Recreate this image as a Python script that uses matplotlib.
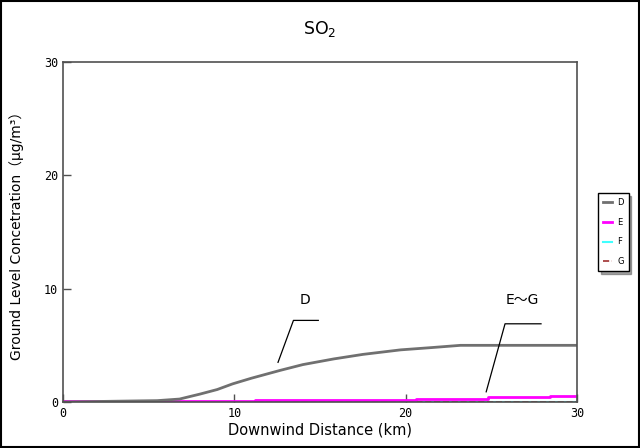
import numpy as np
import matplotlib.pyplot as plt
from matplotlib.lines import Line2D

plt.rcParams['font.family'] = ['DejaVu Sans', 'Noto Sans CJK JP']

# downwind distance (km) and ground level concentration
dist_d = [0, 4.5, 5.5, 6.8, 8.0, 9.0, 9.9, 11.0, 12.7, 14.0, 15.8, 17.5, 19.7, 21.5, 23.2, 25.0, 27.0, 30.0]
conc_d = [0.0, 0.1, 0.12, 0.26, 0.7, 1.1, 1.6, 2.1, 2.8, 3.3, 3.8, 4.2, 4.6, 4.8, 5.0, 5.0, 5.0, 5.0]

dist_e = [0, 11.0, 11.2, 20.5, 20.6, 24.7, 24.8, 28.3, 28.4, 30.0]
conc_e = [0.05, 0.05, 0.15, 0.15, 0.3, 0.3, 0.42, 0.42, 0.52, 0.52]

dist_f = [0, 30]
conc_f = [0.0, 0.0]
dist_g = [0, 30]
conc_g = [0.0, 0.0]

labels = ["D", "E", "F", "G"]

fig = plt.figure(figsize=(6.4, 4.48), dpi=100)
ax = fig.add_axes([63/640, 1 - 402/448, 514/640, 340/448])

ax.plot(dist_f, conc_f, color="#40ffff", lw=1.5, drawstyle="steps-post")
ax.plot(dist_g, conc_g, color="#a03030", lw=1.2, ls="--", drawstyle="steps-post")
ax.plot(dist_e, conc_e, color="#ff00ff", lw=2, drawstyle="steps-post")
ax.plot(dist_d, conc_d, color="#707070", lw=2)

ax.set_xlim(0, 30)
ax.set_ylim(0, 30)
ax.set_xticks([0, 10, 20, 30])
ax.set_yticks([0, 10, 20, 30])
ax.tick_params(direction="in", length=6, width=1, color="#505050", labelsize=8.5)
for lab in ax.get_xticklabels() + ax.get_yticklabels():
    lab.set_family("DejaVu Sans Mono")
for s in ax.spines.values():
    s.set_color("#505050")
    s.set_linewidth(1.2)

ax.set_xlabel("Downwind Distance (km)", fontsize=10.5, labelpad=2)
ax.set_ylabel("Ground Level Concetration（μg/m³）", fontsize=10, labelpad=14)
ax.set_title("SO$_2$", fontsize=12.5, pad=20)

# annotations
ax.plot([12.55, 13.45, 14.9], [3.5, 7.2, 7.2], color="black", lw=0.9)
ax.text(14.1, 9.0, "D", fontsize=10, ha="center", va="center")
ax.plot([24.7, 25.8, 27.9], [0.9, 6.9, 6.9], color="black", lw=0.9)
ax.text(26.8, 9.0, "E～G", fontsize=10, ha="center", va="center")

# legend
handles = [Line2D([], [], color="#707070", lw=2),
           Line2D([], [], color="#ff00ff", lw=2),
           Line2D([], [], color="#40ffff", lw=1.5),
           Line2D([], [], color="#a03030", lw=1.2, ls="--")]
leg = fig.legend(handles, labels, loc="center left", bbox_to_anchor=(598/640, 1 - 232/448),
                 fontsize=6, frameon=True, fancybox=False, shadow=True,
                 handlelength=1.1, handletextpad=0.6, labelspacing=1.3, borderpad=0.6,
                 borderaxespad=0)
leg.get_frame().set_edgecolor("black")
leg.get_frame().set_linewidth(1)

# outer border
fig.patches.append(plt.Rectangle((0.002, 0.002), 0.996, 0.996, transform=fig.transFigure,
                                 fill=False, edgecolor="black", lw=1.5))

fig.savefig("out.png", dpi=100)
